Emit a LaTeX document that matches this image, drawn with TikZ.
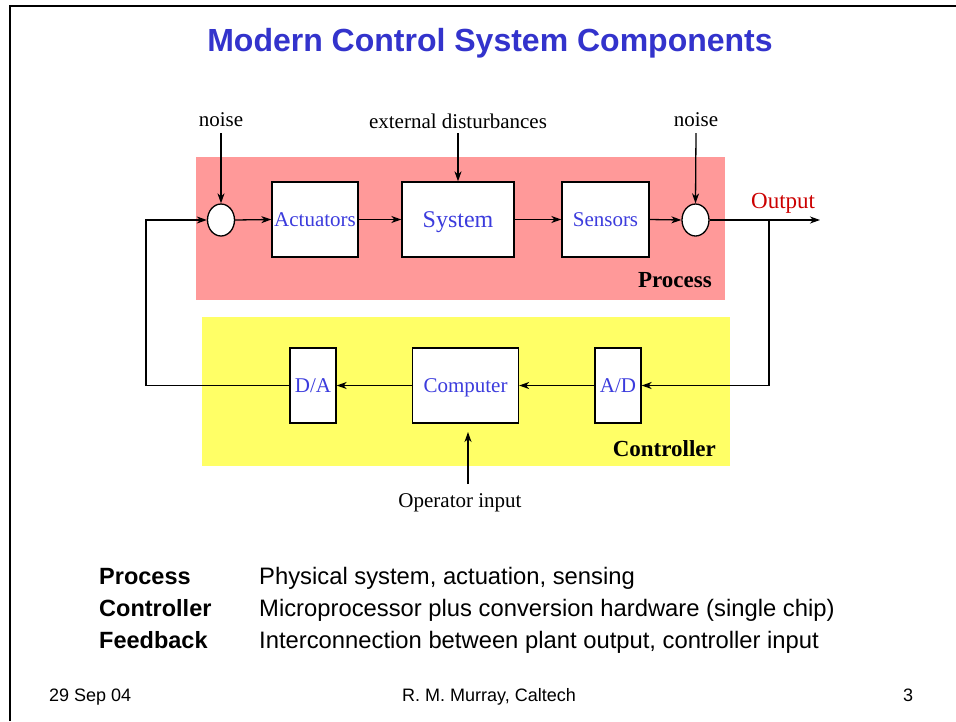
\documentclass[tikz,border=0pt]{standalone}
\usepackage{fontspec}
\setmainfont{Liberation Serif}
\setsansfont{Liberation Sans}
\usetikzlibrary{arrows.meta,shapes.geometric}
\definecolor{titleblue}{HTML}{3333CC}
\definecolor{labelblue}{HTML}{3C3CDD}
\definecolor{pinkbg}{HTML}{FF9999}
\definecolor{yellowbg}{HTML}{FFFF66}
\definecolor{outred}{HTML}{CC0000}
\newcommand{\fs}[1]{\fontsize{#1}{#1}\selectfont}
\begin{document}
\begin{tikzpicture}[x=1pt,y=-1pt,
  conn/.style={line width=1.3pt},
  arr/.style={conn,-{Stealth[length=10pt,width=7pt,inset=3pt]}},
  blk/.style={draw,line width=1.3pt,fill=white,rectangle,inner sep=0pt,
    text=labelblue,font=\fs{21},text height=14pt,text depth=0pt},
  sumj/.style={draw,line width=1.3pt,fill=white,ellipse,inner sep=0pt,
    minimum width=27pt,minimum height=32pt},
  lbl/.style={font=\fs{21},anchor=base,inner sep=0pt},
  grp/.style={font=\bfseries\fs{23},anchor=base east,inner sep=0pt},
  bg/.style={rectangle,inner sep=0pt,anchor=north west},
  term/.style={font=\sffamily\bfseries\fs{23.5},anchor=base west,inner sep=0pt},
  desc/.style={font=\sffamily\fs{23.8},anchor=base west,inner sep=0pt},
  foot/.style={font=\sffamily\fs{18},anchor=base,inner sep=0pt}]
\useasboundingbox (0,0) rectangle (956,721);
\fill[white] (0,0) rectangle (956,721);
% frame
\draw[line width=2pt] (10.3,721) -- (10.3,5.5) -- (956,5.5);
% title
\node[font=\sffamily\bfseries\fs{32},text=titleblue,anchor=base,inner sep=0pt] (title) at (490,51) {Modern Control System Components};
% background groups
\node[bg,fill=pinkbg,minimum width=529pt,minimum height=143pt] (procbg) at (196,157) {};
\node[bg,fill=yellowbg,minimum width=528pt,minimum height=149pt] (ctrlbg) at (202,317) {};
% process blocks
\node[sumj] (s1) at (221,220) {};
\node[blk,minimum width=86pt,minimum height=75pt] (act) at (315,219.5) {Actuators};
\node[blk,minimum width=112pt,minimum height=75pt,font=\fs{24},text height=16pt] (sys) at (458,219.5) {System};
\node[blk,minimum width=87pt,minimum height=75pt] (sen) at (605.5,219.5) {Sensors};
\node[sumj] (s2) at (695.5,220) {};
% controller blocks
\node[blk,minimum width=46pt,minimum height=75pt] (ad) at (618,385.5) {A/D};
\node[blk,minimum width=106pt,minimum height=75pt] (comp) at (465.5,385.5) {Computer};
\node[blk,minimum width=46pt,minimum height=75pt] (da) at (313,385.5) {D/A};
% labels
\node[lbl] (n1) at (221,126) {noise};
\node[lbl] (ext) at (458,128) {external disturbances};
\node[lbl] (n2) at (696,126) {noise};
\node[lbl,text=outred,font=\fs{23},anchor=base west] (outl) at (751,208) {Output};
\node[grp] (proc) at (712,287) {Process};
\node[grp] (ctrl) at (716,456) {Controller};
\node[lbl] (op) at (460,507) {Operator input};
% coordinates
\coordinate (out) at (820,220);
\coordinate (br) at (769,220);
\coordinate (fb) at (146,385.5);
\coordinate (optip) at (468,432);
\coordinate (opst) at (468,484);
\coordinate (n1s) at (221,133);
\coordinate (exts) at (458,133);
\coordinate (n2s) at (696,133);
% connectors
\draw[arr] (n1s) -- (s1.north);
\draw[arr] (exts) -- (sys.north);
\draw[arr] (n2s) -- (s2.north);
\draw[arr] (s1.east) -- (act.west);
\draw[arr] (act.east) -- (sys.west);
\draw[arr] (sys.east) -- (sen.west);
\draw[arr] (sen.east) -- (s2.west);
\draw[arr] (s2.east) -- (out);
\draw[arr] (br) |- (ad.east);
\draw[arr] (ad.west) -- (comp.east);
\draw[arr] (comp.west) -- (da.east);
\draw[arr] (da.west) -- (fb) |- (s1.west);
\draw[arr] (opst) -- (optip);
% bottom text
\node[term] (t1) at (99,584) {Process};
\node[term] (t2) at (99,616) {Controller};
\node[term] (t3) at (99,648) {Feedback};
\node[desc] (d1) at (259,584) {Physical system, actuation, sensing};
\node[desc] (d2) at (259,616) {Microprocessor plus conversion hardware (single chip)};
\node[desc] (d3) at (259,648) {Interconnection between plant output, controller input};
% footer
\node[foot,anchor=base west] (date) at (49,701) {29 Sep 04};
\node[foot] (auth) at (489,701) {R. M. Murray, Caltech};
\node[foot] (page) at (908,701) {3};
\end{tikzpicture}
\end{document}
